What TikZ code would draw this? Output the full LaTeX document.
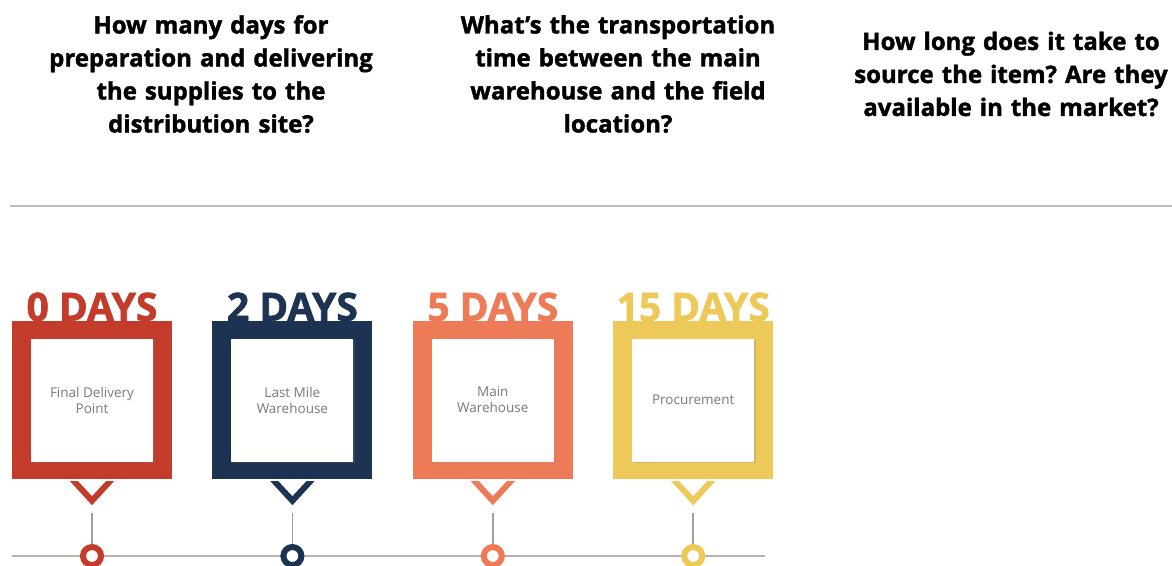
\documentclass[tikz,border=0pt]{standalone}
\usepackage{fontspec}
\setmainfont{Open Sans}
\newfontfamily\heavyfont[BoldFeatures={FakeBold=1.6}]{Open Sans}
\usepackage{tikz}
\usetikzlibrary{positioning, calc, shadows}
\definecolor{stagered}{HTML}{C23B2B}
\definecolor{stagenavy}{HTML}{1C3451}
\definecolor{stageorange}{HTML}{EE7B57}
\definecolor{stageyellow}{HTML}{ECC959}
\definecolor{rulegray}{HTML}{BFBFBF}
\definecolor{stemgray}{HTML}{A79F98}
\definecolor{labelgray}{HTML}{7A7A7A}
\frenchspacing

\begin{document}
\begin{tikzpicture}[
  x=1pt, y=-1pt,
  node distance=40pt,
  question/.style={text width=340pt, align=center, inner sep=0pt, font=\fontsize{24}{33}\selectfont\heavyfont\bfseries},
  frame/.style={rectangle, fill=#1, minimum width=160pt, minimum height=158pt, inner sep=0pt},
  window/.style={rectangle, fill=white, minimum width=122pt, minimum height=123pt, inner sep=0pt, align=center, text=labelgray, font=\fontsize{13.5}{16}\selectfont, drop shadow={opacity=0.25, shadow xshift=1.5pt, shadow yshift=-1.5pt}},
  days/.style={text=#1, anchor=base, inner sep=0pt, font=\fontsize{39}{39}\selectfont\heavyfont\bfseries},
  dot/.style={circle, draw=#1, line width=6pt, fill=white, minimum size=18pt, inner sep=0pt},
  stem/.style={draw=stemgray, line width=1.5pt},
  timeline/.style={draw=stemgray!80, line width=1.5pt}
]
\useasboundingbox (0,0) rectangle (1172,565);

% Questions
\node[question] (q1) at (211,74) {How many days for\\preparation and delivering\\the supplies to the\\distribution site?};
\node[question] (q2) at (618,74) {What’s the transportation\\time between the main\\warehouse and the field\\location?};
\node[question] (q3) at (1011,74) {How long does it take to\\source the item? Are they\\available in the market?};

% Separator
\coordinate (rule-l) at (10,206);
\coordinate (rule-r) at (1172,206);
\draw[draw=rulegray, line width=1.5pt] (rule-l) -- (rule-r);

% Timeline
\coordinate (tl-start) at (12,556);
\coordinate (tl-end) at (765,556);
\draw[timeline] (tl-start) -- (tl-end);

% Final Delivery Point
\node[frame=stagered] (f1) at (92,400) {};
\node[window] (w1) at (f1.center) {Final Delivery\\Point};
\node[days=stagered] (d1) at (f1.north) {0 DAYS};
\fill[stagered] ($(f1.south)+(-22,2)$) -- ++(22,24) -- ++(22,-24) -- ++(-8,0) -- ++(-14,15) -- ++(-14,-15) -- cycle;
\coordinate (s1) at ([yshift=-34pt]f1.south);
\node[dot=stagered] (o1) at (f1 |- tl-start) {};
\draw[stem] (s1) -- (o1);

% Last Mile Warehouse
\node[frame=stagenavy, right=of f1] (f2) {};
\node[window] (w2) at (f2.center) {Last Mile\\Warehouse};
\node[days=stagenavy] (d2) at (f2.north) {2 DAYS};
\fill[stagenavy] ($(f2.south)+(-22,2)$) -- ++(22,24) -- ++(22,-24) -- ++(-8,0) -- ++(-14,15) -- ++(-14,-15) -- cycle;
\coordinate (s2) at ([yshift=-34pt]f2.south);
\node[dot=stagenavy] (o2) at (f2 |- tl-start) {};
\draw[stem] (s2) -- (o2);

% Main Warehouse
\node[frame=stageorange, right=of f2] (f3) {};
\node[window] (w3) at (f3.center) {Main\\Warehouse};
\node[days=stageorange] (d3) at (f3.north) {5 DAYS};
\fill[stageorange] ($(f3.south)+(-22,2)$) -- ++(22,24) -- ++(22,-24) -- ++(-8,0) -- ++(-14,15) -- ++(-14,-15) -- cycle;
\coordinate (s3) at ([yshift=-34pt]f3.south);
\node[dot=stageorange] (o3) at (f3 |- tl-start) {};
\draw[stem] (s3) -- (o3);

% Procurement
\node[frame=stageyellow, right=of f3] (f4) {};
\node[window] (w4) at (f4.center) {Procurement};
\node[days=stageyellow] (d4) at (f4.north) {15 DAYS};
\fill[stageyellow] ($(f4.south)+(-22,2)$) -- ++(22,24) -- ++(22,-24) -- ++(-8,0) -- ++(-14,15) -- ++(-14,-15) -- cycle;
\coordinate (s4) at ([yshift=-34pt]f4.south);
\node[dot=stageyellow] (o4) at (f4 |- tl-start) {};
\draw[stem] (s4) -- (o4);

\end{tikzpicture}
\end{document}
